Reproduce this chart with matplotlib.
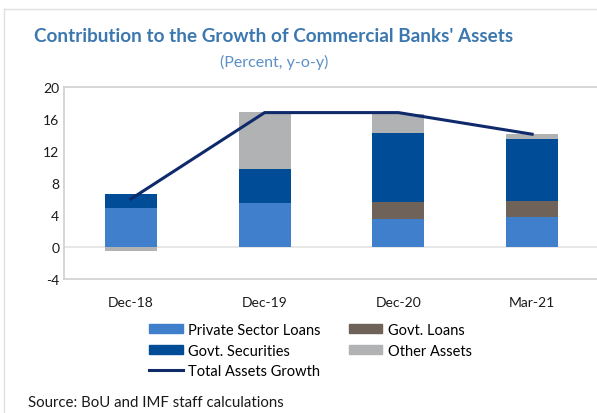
import matplotlib.pyplot as plt
import numpy as np
from matplotlib.patches import Rectangle
from matplotlib.lines import Line2D

plt.rcParams['font.family'] = ['Lato', 'DejaVu Sans']
plt.rcParams['axes.unicode_minus'] = False

# data
periods = ['Dec-18', 'Dec-19', 'Dec-20', 'Mar-21']
private_loans = [4.9, 5.5, 3.5, 3.8]
govt_loans = [0.0, 0.0, 2.1, 1.95]
govt_securities = [1.7, 4.2, 8.7, 7.7]
other_assets = [-0.55, 7.2, 2.3, 0.65]
total_growth = [6.0, 16.8, 16.8, 14.1]

c_private = '#3F7FCB'
c_gloans = '#6E6259'
c_secur = '#004C97'
c_other = '#B0B2B3'
c_total = '#0F2A6B'

fig = plt.figure(figsize=(5.97, 4.14), dpi=100)
ax = fig.add_axes([64 / 597, 1 - 280 / 414, (599 - 64) / 597, (280 - 88) / 414])

x = np.arange(len(periods))
w = 0.39

priv = np.array(private_loans)
gl = np.array(govt_loans)
sec = np.array(govt_securities)
oth = np.array(other_assets)

ax.bar(x, priv, w, color=c_private, label='Private Sector Loans')
ax.bar(x, gl, w, bottom=priv, color=c_gloans, label='Govt. Loans')
ax.bar(x, sec, w, bottom=priv + gl, color=c_secur, label='Govt. Securities')
# other assets stacks on top when positive, below zero when negative
oth_bottom = np.where(oth >= 0, priv + gl + sec, 0)
ax.bar(x, oth, w, bottom=oth_bottom, color=c_other, label='Other Assets')
ax.plot(x, total_growth, color=c_total, lw=2.2, label='Total Assets Growth')

ax.axhline(0, color='#E3E3E3', lw=1.2, zorder=0)
ax.set_xlim(-0.5, 3.5)
ax.set_ylim(-4, 20)
ax.set_yticks(range(-4, 21, 4))
ax.set_xticks(x)
ax.set_xticklabels(periods)
ax.tick_params(length=0, labelsize=10, colors='#1A1A1A')
ax.tick_params(axis='x', pad=12)
for s in ax.spines.values():
    s.set_color('#D0D0D0')
    s.set_linewidth(1.2)

fig.text(274 / 597, 1 - 37 / 414, "Contribution to the Growth of Commercial Banks' Assets",
         ha='center', va='center', fontsize=13.6, fontweight='bold', color='#3C78B0')
fig.text(274 / 597, 1 - 62 / 414, '(Percent, y-o-y)', ha='center', va='center',
         fontsize=11.5, color='#5B8FC7')

handles = [
    Rectangle((0, 0), 1, 1, color=c_private),
    Rectangle((0, 0), 1, 1, color=c_secur),
    Line2D([], [], color=c_total, lw=2.2),
    Rectangle((0, 0), 1, 1, color=c_gloans),
    Rectangle((0, 0), 1, 1, color=c_other),
]
labels = ['Private Sector Loans', 'Govt. Securities', 'Total Assets Growth',
          'Govt. Loans', 'Other Assets']
fig.legend(handles, labels, ncol=2, loc='upper left',
           bbox_to_anchor=(149 / 597, 1 - 324 / 414), frameon=False,
           fontsize=10.5, handlelength=2.3, handleheight=0.6, handletextpad=0.4,
           columnspacing=1.9, labelspacing=0.45, borderpad=0, borderaxespad=0)

fig.text(28 / 597, 1 - 403 / 414, 'Source: BoU and IMF staff calculations',
         ha='left', va='center', fontsize=10.8, color='#1A1A1A')

# outer frame of the exhibit
fig.add_artist(Line2D([4 / 597, 4 / 597], [0, 1 - 10 / 414], color='#E0E0E0', lw=1,
                      transform=fig.transFigure))
fig.add_artist(Line2D([4 / 597, 1], [1 - 10 / 414, 1 - 10 / 414], color='#E0E0E0', lw=1,
                      transform=fig.transFigure))

fig.savefig('out.png', dpi=100)
